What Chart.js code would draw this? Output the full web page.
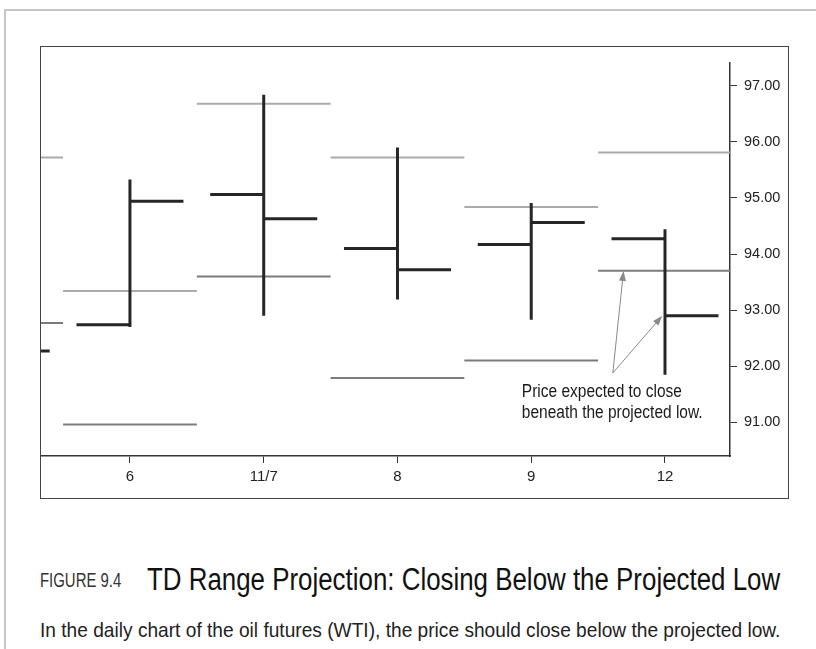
<!DOCTYPE html>
<html>
<head>
<meta charset="utf-8">
<script src="https://cdn.jsdelivr.net/npm/chart.js@4.4.1/dist/chart.umd.min.js"></script>
<style>
  body { margin: 0; background: #fff; width: 816px; height: 649px; overflow: hidden; position: relative;
         font-family: 'Liberation Sans', Arial, sans-serif; }
  .page-edge { position: absolute; left: 4px; top: 9px; right: 0; bottom: 0;
               border-top: 2px solid #c6c6c6; border-left: 2px solid #c6c6c6; }
  .frame { position: absolute; left: 40px; top: 46px; width: 747px; height: 451px; border: 1.5px solid #444; }
  #wtiChart { position: absolute; left: 0; top: 0; }
  .cap { position: absolute; white-space: nowrap; line-height: 1; transform-origin: 0 0; }
  .fig-no { left: 40px; top: 569px; font-size: 21px; color: #333; }
  .fig-title { left: 147px; top: 564px; font-size: 31px; color: #111; }
  .fig-text { left: 40px; top: 619px; font-size: 21px; color: #222; }
</style>
</head>
<body>
<div class="page-edge"></div>
<div class="frame"><canvas id="wtiChart" width="747" height="451"></canvas></div>
<div class="cap fig-no" data-w="81">FIGURE 9.4</div>
<div class="cap fig-title" data-w="633">TD Range Projection: Closing Below the Projected Low</div>
<div class="cap fig-text" data-w="740">In the daily chart of the oil futures (WTI), the price should close below the projected low.</div>

<script>
// 일봉 데이터 (첫 번째는 왼쪽 끝에서 잘린 이전 거래일)
const dayLabels = ['6', '11/7', '8', '9', '12'];
const dayPos = [-1, 0, 1, 2, 3, 4];
const openPrices = [null, 92.74, 95.06, 94.10, 94.17, 94.27];
const highPrices = [null, 95.33, 96.84, 95.90, 94.91, 94.44];
const lowPrices = [null, 92.70, 92.90, 93.19, 92.83, 91.85];
const closePrices = [92.27, 94.94, 94.63, 93.72, 94.56, 92.90];

// TD Range Projection (예상 고가 / 예상 저가)
const projHigh = [95.72, 93.34, 96.68, 95.72, 94.84, 95.81];
const projLow = [92.77, 90.96, 93.60, 91.79, 92.10, 93.70];

const yTicks = [91, 92, 93, 94, 95, 96, 97];

// 주석
const noteLines = ['Price expected to close', 'beneath the projected low.'];
const notePos = { x: 2.93, y: 91.54 };
const arrowFrom = { x: 3.61, y: 91.88 };
const arrowTo = [
  { x: 3.69, y: projLow[5] },
  { x: 3.98, y: closePrices[5] }
];

const FONT = "'Liberation Sans', Arial, sans-serif";
const TICK = 0.40; // 시가/종가 가로 눈금 길이 (x 단위)

// 캡션 글자를 좁은 글꼴처럼 가로로 맞춘다
document.querySelectorAll('.cap').forEach(el => {
  const k = Number(el.dataset.w) / el.offsetWidth;
  el.style.transform = `scaleX(${k})`;
});

// 선분 목록을 null 로 끊어서 하나의 line 데이터로 만든다
function segments(list) {
  const out = [];
  list.forEach(s => {
    if (s[0].y == null || s[1].y == null) return;
    out.push(s[0], s[1], { x: s[1].x, y: null });
  });
  return out;
}

const ohlcSegs = [];
dayPos.forEach((x, i) => {
  ohlcSegs.push([{ x: x, y: highPrices[i] }, { x: x, y: lowPrices[i] }]);
  ohlcSegs.push([{ x: x - TICK, y: openPrices[i] }, { x: x, y: openPrices[i] }]);
  ohlcSegs.push([{ x: x, y: closePrices[i] }, { x: x + TICK, y: closePrices[i] }]);
});
const highSegs = dayPos.map((x, i) => [{ x: x - 0.5, y: projHigh[i] }, { x: x + 0.5, y: projHigh[i] }]);
const lowSegs = dayPos.map((x, i) => [{ x: x - 0.5, y: projLow[i] }, { x: x + 0.5, y: projLow[i] }]);

const lineStyle = { type: 'line', pointRadius: 0, spanGaps: false, tension: 0, borderCapStyle: 'butt', clip: 0 };

// 화살표와 설명 문구
const notePlugin = {
  id: 'note',
  afterDatasetsDraw(chart) {
    const { ctx, scales: { x, y } } = chart;
    ctx.save();
    ctx.strokeStyle = '#8a8a8a';
    ctx.fillStyle = '#8a8a8a';
    ctx.lineWidth = 1;
    const x0 = x.getPixelForValue(arrowFrom.x), y0 = y.getPixelForValue(arrowFrom.y);
    arrowTo.forEach(t => {
      const x1 = x.getPixelForValue(t.x), y1 = y.getPixelForValue(t.y);
      const a = Math.atan2(y1 - y0, x1 - x0);
      ctx.beginPath();
      ctx.moveTo(x0, y0);
      ctx.lineTo(x1 - 7 * Math.cos(a), y1 - 7 * Math.sin(a));
      ctx.stroke();
      ctx.beginPath();
      ctx.moveTo(x1, y1);
      ctx.lineTo(x1 - 10 * Math.cos(a) + 3.5 * Math.sin(a), y1 - 10 * Math.sin(a) - 3.5 * Math.cos(a));
      ctx.lineTo(x1 - 10 * Math.cos(a) - 3.5 * Math.sin(a), y1 - 10 * Math.sin(a) + 3.5 * Math.cos(a));
      ctx.closePath();
      ctx.fill();
    });
    ctx.fillStyle = '#1a1a1a';
    ctx.font = '18px ' + FONT;
    ctx.textBaseline = 'middle';
    const tx = x.getPixelForValue(notePos.x);
    const ty = y.getPixelForValue(notePos.y);
    noteLines.forEach((t, k) => {
      ctx.save();
      ctx.translate(tx, ty + k * 21);
      ctx.scale(0.86, 1);
      ctx.fillText(t, 0, 0);
      ctx.restore();
    });
    ctx.restore();
  }
};

const wtiCtx = document.getElementById('wtiChart').getContext('2d');
new Chart(wtiCtx, {
  data: {
    datasets: [
      { ...lineStyle, label: 'OHLC', data: segments(ohlcSegs), borderColor: '#262626', borderWidth: 3 },
      { ...lineStyle, label: 'Projected low', data: segments(lowSegs), borderColor: '#7c7c7c', borderWidth: 2 },
      { ...lineStyle, label: 'Projected high', data: segments(highSegs), borderColor: '#ababab', borderWidth: 2 }
    ]
  },
  options: {
    responsive: false,
    animation: false,
    layout: { padding: { top: 15, left: 0, right: 0, bottom: 0 } },
    scales: {
      x: {
        type: 'linear',
        min: -0.665,
        max: 4.486,
        afterBuildTicks: axis => { axis.ticks = dayLabels.map((_, i) => ({ value: i })); },
        afterFit: axis => { axis.height = 42; },
        grid: { drawOnChartArea: false, drawTicks: true, tickLength: 7, color: '#333', lineWidth: 1 },
        border: { display: true, color: '#333', width: 1.5 },
        ticks: {
          padding: 5,
          color: '#222',
          font: { family: FONT, size: 15 },
          maxRotation: 0,
          callback: v => dayLabels[v]
        }
      },
      y: {
        type: 'linear',
        position: 'right',
        min: 90.40,
        max: 97.41,
        afterBuildTicks: axis => { axis.ticks = yTicks.map(v => ({ value: v })); },
        afterFit: axis => { axis.width = 58; },
        grid: { drawOnChartArea: false, drawTicks: true, tickLength: 7, color: '#333', lineWidth: 1 },
        border: { display: true, color: '#333', width: 1.5 },
        ticks: {
          padding: 7,
          color: '#222',
          font: { family: FONT, size: 14.5 },
          callback: v => v.toFixed(2)
        }
      }
    },
    plugins: {
      legend: { display: false },
      tooltip: { enabled: false }
    }
  },
  plugins: [notePlugin]
});
</script>
</body>
</html>
